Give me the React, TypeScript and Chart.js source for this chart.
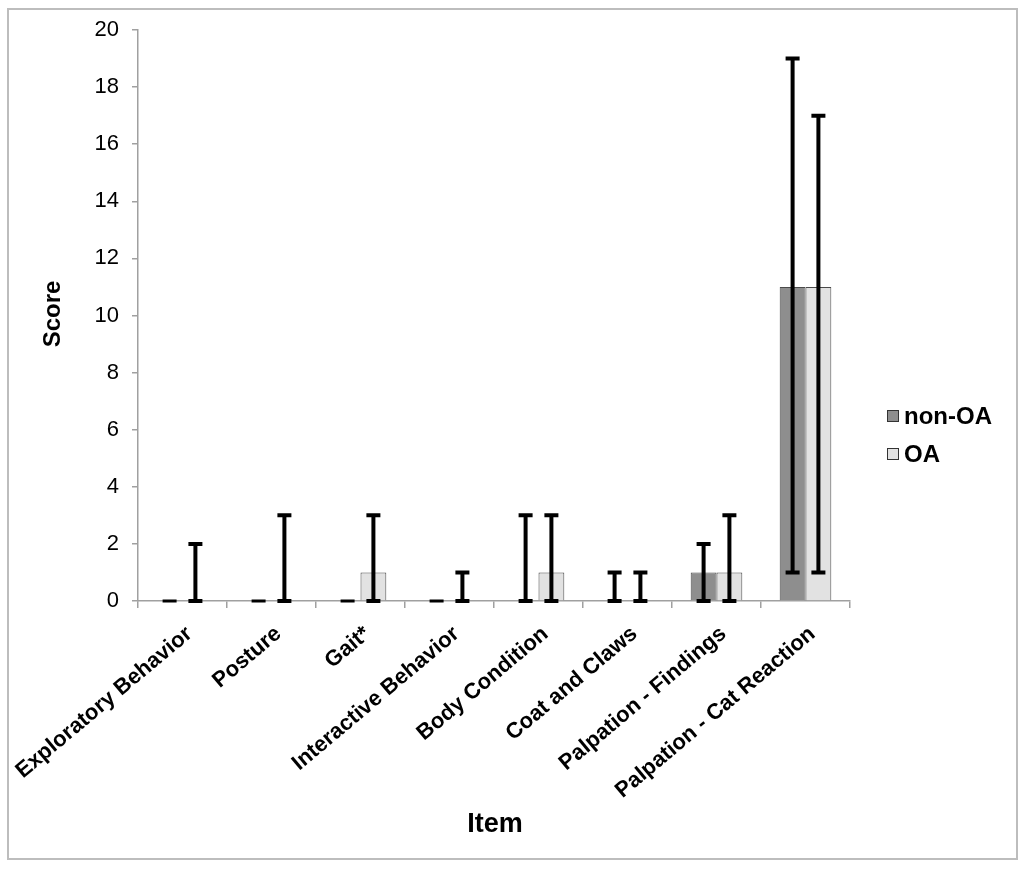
import React, { useEffect, useRef } from "react";
import { Chart, registerables } from "chart.js";

Chart.register(...registerables);

const categories = [
  "Exploratory Behavior",
  "Posture",
  "Gait*",
  "Interactive Behavior",
  "Body Condition",
  "Coat and Claws",
  "Palpation - Findings",
  "Palpation - Cat Reaction",
];
const nonOA = [0, 0, 0, 0, 0, 0, 1, 11];
const OA = [0, 0, 1, 0, 1, 0, 1, 11];
const nonOALow = [0, 0, 0, 0, 0, 0, 0, 1];
const nonOAHigh = [0, 0, 0, 0, 3, 1, 2, 19];
const OALow = [0, 0, 0, 0, 0, 0, 0, 1];
const OAHigh = [2, 3, 3, 1, 3, 1, 3, 17];
const seriesNames = ["non-OA", "OA"];
const seriesFill = ["#8e8e8e", "#e2e2e2"];
const yTicks = [0, 2, 4, 6, 8, 10, 12, 14, 16, 18, 20];

const W = 1024;
const H = 871;
const AREA = { left: 138, top: 30, right: 850, bottom: 601 };
const FONT = "'Liberation Sans', Arial, sans-serif";

export default function App() {
  const ref = useRef<HTMLCanvasElement | null>(null);

  useEffect(() => {
    document.body.style.margin = "0";
    const canvas = ref.current;
    if (!canvas) return;
    const lows = [nonOALow, OALow];
    const highs = [nonOAHigh, OAHigh];

    const extras = {
      id: "extras",
      beforeDraw(chart: any) {
        const ctx = chart.ctx;
        ctx.save();
        ctx.fillStyle = "#ffffff";
        ctx.fillRect(0, 0, W, H);
        ctx.strokeStyle = "#bdbdbd";
        ctx.lineWidth = 2;
        ctx.strokeRect(8, 9, 1009, 850);
        ctx.restore();
      },
      afterDatasetsDraw(chart: any) {
        const ctx = chart.ctx;
        const ys = chart.scales.y;
        ctx.save();
        ctx.strokeStyle = "#000000";
        ctx.lineCap = "butt";
        for (let d = 0; d < 2; d++) {
          const meta = chart.getDatasetMeta(d);
          meta.data.forEach((bar: any, j: number) => {
            const x = bar.x;
            const yl = ys.getPixelForValue(lows[d][j]);
            const yh = ys.getPixelForValue(highs[d][j]);
            ctx.lineWidth = 4;
            ctx.beginPath();
            ctx.moveTo(x, yl);
            ctx.lineTo(x, yh);
            ctx.stroke();
            ctx.lineWidth = yl === yh ? 3 : 4;
            ctx.beginPath();
            ctx.moveTo(x - 7, yl);
            ctx.lineTo(x + 7, yl);
            ctx.moveTo(x - 7, yh);
            ctx.lineTo(x + 7, yh);
            ctx.stroke();
          });
        }
        ctx.restore();
      },
      afterDraw(chart: any) {
        const ctx = chart.ctx;
        ctx.save();
        ctx.fillStyle = "#000000";
        // axis titles
        ctx.font = `bold 24px ${FONT}`;
        ctx.textAlign = "center";
        ctx.textBaseline = "middle";
        ctx.save();
        ctx.translate(53, 314);
        ctx.rotate(-Math.PI / 2);
        ctx.fillText("Score", 0, 0);
        ctx.restore();
        ctx.font = `bold 27px ${FONT}`;
        ctx.fillText("Item", 495, 825);
        // legend
        ctx.font = `bold 24px ${FONT}`;
        ctx.textAlign = "left";
        const ly = [416, 454];
        for (let i = 0; i < 2; i++) {
          ctx.fillStyle = seriesFill[i];
          ctx.fillRect(887, ly[i] - 6, 12, 12);
          ctx.strokeStyle = "#333333";
          ctx.lineWidth = 1;
          ctx.strokeRect(887.5, ly[i] - 5.5, 11, 11);
          ctx.fillStyle = "#000000";
          ctx.fillText(seriesNames[i], 904, ly[i] + 1);
        }
        ctx.restore();
      },
    };

    const chart = new Chart(canvas, {
      type: "bar",
      data: {
        labels: categories,
        datasets: [
          {
            label: seriesNames[0],
            data: nonOA,
            backgroundColor: seriesFill[0],
            borderColor: "#4a4a4a",
            borderWidth: 1,
            categoryPercentage: 0.58,
            barPercentage: 1.0,
          },
          {
            label: seriesNames[1],
            data: OA,
            backgroundColor: seriesFill[1],
            borderColor: "#4a4a4a",
            borderWidth: 1,
            categoryPercentage: 0.58,
            barPercentage: 1.0,
          },
        ],
      },
      options: {
        responsive: false,
        animation: false,
        devicePixelRatio: 1,
        layout: {
          padding: { left: 0, top: AREA.top, right: W - AREA.right, bottom: 0 },
        },
        plugins: {
          legend: { display: false },
          tooltip: { enabled: false },
          title: { display: false },
        },
        scales: {
          x: {
            offset: true,
            grid: {
              offset: true,
              drawOnChartArea: false,
              drawTicks: true,
              tickLength: 7,
              color: "#a0a0a0",
              lineWidth: 1.5,
            },
            border: { color: "#a0a0a0", width: 1.5 },
            ticks: {
              autoSkip: false,
              maxRotation: 40,
              minRotation: 40,
              color: "#000000",
              padding: 13,
              labelOffset: 7,
              font: { family: FONT, size: 22, weight: "bold" },
            },
            afterFit(scale: any) {
              scale.height = H - AREA.bottom;
              scale.paddingLeft = 0;
              scale.paddingRight = 0;
            },
          },
          y: {
            min: 0,
            max: 20,
            afterBuildTicks(scale: any) {
              scale.ticks = yTicks.map((v) => ({ value: v }));
            },
            grid: {
              drawOnChartArea: false,
              drawTicks: true,
              tickLength: 6,
              color: "#a0a0a0",
              lineWidth: 1.5,
            },
            border: { color: "#a0a0a0", width: 1.5 },
            ticks: {
              color: "#000000",
              padding: 13,
              font: { family: FONT, size: 22 },
            },
            afterFit(scale: any) {
              scale.width = AREA.left;
              scale.paddingTop = 0;
              scale.paddingBottom = 0;
            },
          },
        },
      },
      plugins: [extras],
    } as any);

    return () => chart.destroy();
  }, []);

  return (
    <div style={{ width: W, height: H, position: "relative" }}>
      <canvas ref={ref} width={W} height={H} style={{ display: "block" }} />
    </div>
  );
}
